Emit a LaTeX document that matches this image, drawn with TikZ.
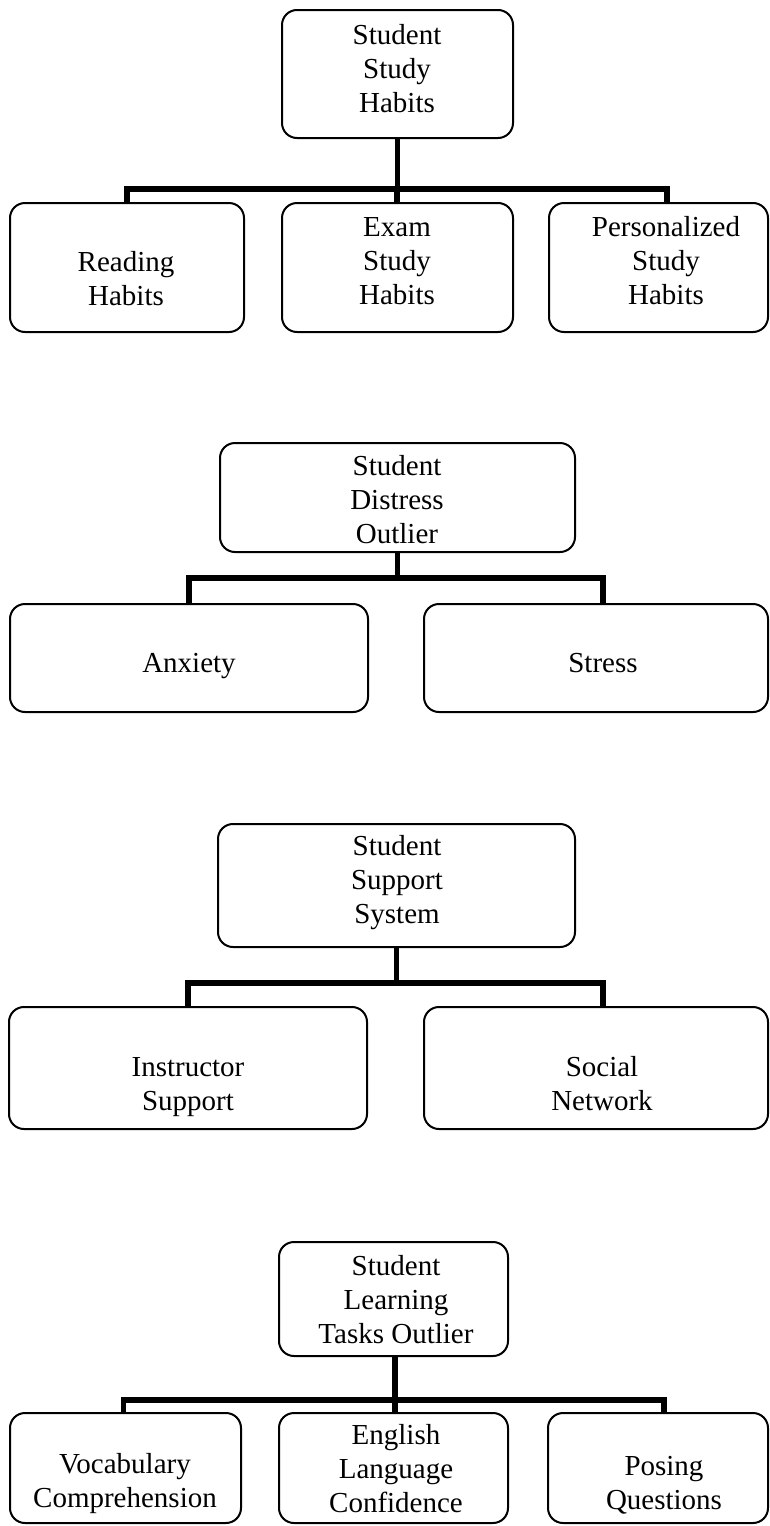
\documentclass[tikz,border=0pt]{standalone}
\usepackage{fontspec}
\setmainfont{Liberation Serif}
\begin{document}
\begin{tikzpicture}[x=1pt, y=-1pt,
  font=\fontsize{29}{34}\selectfont,
  box/.style 2 args={
    draw, rounded corners=15pt,
    line width=2pt,
    minimum width=#1,
    minimum height=#2,
    inner sep=0pt
  },
  lbl/.style={align=center, inner sep=0pt},
  conn/.style={line width=5.5pt, line join=miter, black}
]
  \useasboundingbox (0,0) rectangle (770,1526);
  % Study habits
  \node[box={231}{128}] (study)  at (397.5,74)  {};
  \node[lbl]            (studyT) at (397,69)    {Student\\Study\\Habits};
  \node[box={234}{129}] (read)   at (127,267.5) {};
  \node[lbl]            (readT)  at (126,279)   {Reading\\Habits};
  \node[box={231}{129}] (exam)   at (397.5,267.5) {};
  \node[lbl]            (examT)  at (397,261)   {Exam\\Study\\Habits};
  \node[box={219}{129}] (pers)   at (658.5,267.5) {};
  \node[lbl]            (persT)  at (666,261)   {Personalized\\Study\\Habits};
  \coordinate (studyJ) at (397,189);
  \draw[conn] (study.south) -- (study.south |- studyJ);
  \draw[conn] (read.north) |- (studyJ) -| ([xshift=8.5pt]pers.north);
  \draw[conn] (studyJ) -- (studyJ |- exam.north);
  % Distress
  \node[box={355}{109}] (distress)  at (397.5,497.5) {};
  \node[lbl]            (distressT) at (397,500)     {Student\\Distress\\Outlier};
  \node[box={358}{108}] (anx)       at (189,658)     {};
  \node[lbl]            (anxT)      at (189,666)     {Anxiety};
  \node[box={344}{108}] (stress)    at (596,658)     {};
  \node[lbl]            (stressT)   at (603,663)     {Stress};
  \coordinate (distressJ) at (397,578);
  \draw[conn] (distress.south) -- (distress.south |- distressJ);
  \draw[conn] (anx.north) |- (distressJ) -| ([xshift=7pt]stress.north);
  % Support
  \node[box={357}{123}] (support)  at (396.5,885.5) {};
  \node[lbl]            (supportT) at (397,883)     {Student\\Support\\System};
  \node[box={358}{122}] (instr)    at (188,1068)    {};
  \node[lbl]            (instrT)   at (188,1087)    {Instructor\\Support};
  \node[box={344}{122}] (social)   at (596,1068)    {};
  \node[lbl]            (socialT)  at (602,1084)    {Social\\Network};
  \coordinate (supportJ) at (397,983);
  \draw[conn] (support.south) -- (support.south |- supportJ);
  \draw[conn] (instr.north) |- (supportJ) -| ([xshift=7pt]social.north);
  % Learning tasks
  \node[box={229}{114}] (learn)  at (393.5,1299) {};
  \node[lbl]            (learnT) at (396,1300)   {Student\\Learning\\Tasks Outlier};
  \node[box={231}{110}] (vocab)  at (125.5,1468) {};
  \node[lbl]            (vocabT) at (125,1484)   {Vocabulary\\Comprehension};
  \node[box={229}{110}] (engl)   at (393.5,1468) {};
  \node[lbl]            (englT)  at (396,1469)   {English\\Language\\Confidence};
  \node[box={220}{110}] (posing) at (658,1468)   {};
  \node[lbl]            (posingT) at (664,1485)  {Posing\\Questions};
  \coordinate (learnJ) at (395,1400);
  \draw[conn] (learnJ |- learn.south) -- (learnJ);
  \draw[conn] ([xshift=-2pt]vocab.north) |- (learnJ) -| ([xshift=6pt]posing.north);
  \draw[conn] (learnJ) -- (learnJ |- engl.north);
\end{tikzpicture}
\end{document}
